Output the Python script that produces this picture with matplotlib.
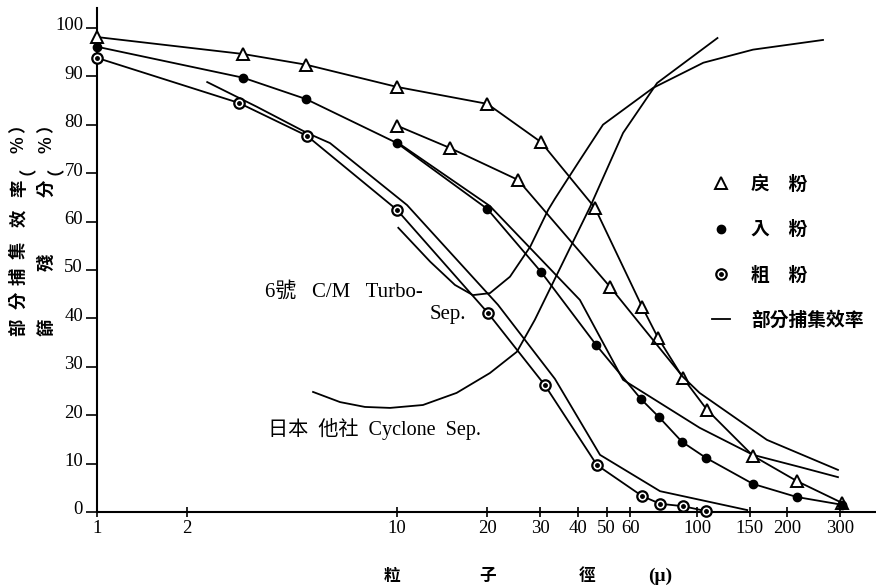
import matplotlib
matplotlib.use('Agg')
import matplotlib.pyplot as plt
import matplotlib.transforms as mtransforms
from matplotlib.lines import Line2D
from matplotlib.legend_handler import HandlerTuple
from matplotlib.ticker import NullLocator

CJK = 'Noto Sans CJK TC'
SERIF = 'Liberation Serif'
plt.rcParams['font.family'] = [SERIF, CJK, 'DejaVu Sans']

# ---- data (particle size in micron, percent) ----
tri_a_x = [1, 3.07, 4.97, 10, 20, 30.2, 45.7, 65.6, 74.1, 89.8, 108, 153.7, 215, 304]
tri_a_y = [98.1, 94.6, 92.4, 87.8, 84.3, 76.4, 62.8, 42.4, 36.0, 27.7, 21.1, 11.6, 6.4, 1.9]

tri_b_x = [10, 15.0, 25.3, 51.3, 71.4, 89.8, 102, 171, 295]
tri_b_y = [79.8, 75.2, 68.6, 46.5, 35.5, 27.9, 24.6, 14.9, 8.7]

dot_x = [1, 3.07, 4.97, 10, 20, 30.2, 46.1, 65.1, 74.7, 89.1, 107, 153.7, 215, 304]
dot_y = [96.1, 89.7, 85.3, 76.2, 62.6, 49.6, 34.5, 23.3, 19.6, 14.5, 11.2, 5.8, 3.1, 1.5]

dot_pair_x = [10, 20.4, 40.7, 56.7, 102, 153.7, 220, 295]
dot_pair_y = [76.4, 63.2, 43.8, 27.3, 17.4, 11.8, 9.3, 7.2]

circ_x = [1, 2.97, 5.01, 10, 20.1, 31.1, 46.4, 65.6, 75.3, 89.8, 107]
circ_y = [93.8, 84.5, 77.7, 62.4, 41.1, 26.2, 9.7, 3.3, 1.7, 1.2, 0.2]

circ_pair_x = [2.33, 3.41, 5.01, 5.98, 10.8, 21.7, 33.6, 47.5, 75.3, 147]
circ_pair_y = [88.8, 83.7, 78.3, 76.2, 63.4, 42.8, 27.5, 11.8, 4.3, 0.4]

turbo_x = [10.1, 12.9, 15.6, 17.9, 20.4, 23.8, 27.8, 31.9, 33.6, 40.7, 48.6, 71.4, 105, 153.7, 263]
turbo_y = [58.7, 51.7, 46.9, 44.8, 45.2, 48.6, 54.8, 62.4, 64.7, 72.7, 80.0, 87.6, 92.8, 95.5, 97.5]

cyclone_x = [5.25, 6.46, 7.82, 9.48, 12.2, 15.8, 20.4, 25.1, 28.8, 44.0, 56.7, 73.6, 117]
cyclone_y = [24.8, 22.7, 21.7, 21.5, 22.1, 24.6, 28.7, 33.1, 39.7, 63.0, 78.3, 88.6, 97.9]

x_ticks = [1, 2, 10, 20, 30, 40, 50, 60, 100, 150, 200, 300]
y_ticks = list(range(0, 101, 10))

legend_labels = ['戻\u3000粉', '入\u3000粉', '粗\u3000粉', '部分捕集效率']

W, H = 876, 587
fig = plt.figure(figsize=(W / 100, H / 100), dpi=100)


def fx(px):
    return px / W


def fy(py):
    return 1 - py / H


ax = fig.add_axes([fx(97), fy(512), (W - 97) / W, (512 - 8) / H])
ax.set_xscale('log')
ax.set_xlim(1, 395)
ax.set_ylim(0, 104.1)

lw = 1.3
line_kw = dict(color='k', lw=lw, clip_on=False)

# plain curves first
ax.plot(turbo_x, turbo_y, **line_kw)
ax.plot(cyclone_x, cyclone_y, **line_kw)
ax.plot(dot_pair_x, dot_pair_y, **line_kw)
ax.plot(circ_pair_x, circ_pair_y, **line_kw)

# marked curves
tri_kw = dict(marker='^', ms=8.5, mfc='white', mec='k', mew=1.4)
ax.plot(tri_a_x, tri_a_y, **line_kw, **tri_kw, zorder=3)
ax.plot(tri_b_x, tri_b_y, **line_kw, **tri_kw, markevery=[0, 1, 2, 3], zorder=3)
ax.plot(dot_x, dot_y, **line_kw, marker='o', ms=6, mfc='k', mec='k', zorder=3)
ax.plot(circ_x, circ_y, **line_kw, marker='o', ms=7.5, mfc='white', mec='k', mew=1.6, zorder=3)
ax.plot(circ_x, circ_y, ls='none', marker='o', ms=2.5, color='k', clip_on=False, zorder=4)

# axes styling
for side in ('top', 'right'):
    ax.spines[side].set_visible(False)
for side in ('left', 'bottom'):
    ax.spines[side].set_linewidth(1.5)

ax.set_xticks(x_ticks)
ax.set_xticklabels([str(v) for v in x_ticks])
ax.xaxis.set_minor_locator(NullLocator())
ax.set_yticks(y_ticks)
ax.set_yticklabels([str(v) for v in y_ticks])
ax.tick_params(axis='x', direction='inout', length=7, width=1.2, pad=2, labelsize=13.5)
ax.tick_params(axis='y', direction='out', length=8, width=1.2, pad=2, labelsize=13.5)
shift = mtransforms.ScaledTranslation(0, 4 / 100, fig.dpi_scale_trans)
for lab in ax.get_yticklabels():
    lab.set_transform(lab.get_transform() + shift)

# y axis label: two vertical columns
left_col = [('部', 327), ('分', 300), ('捕', 276), ('集', 250), ('效', 218), ('率', 188),
            ('（', 166), ('%', 145), ('）', 124)]
right_col = [('篩', 327), ('殘', 262), ('分', 188), ('（', 166), ('%', 145), ('）', 124)]
for col_x, col in ((19, left_col), (47, right_col)):
    for ch, py in col:
        fig.text(fx(col_x), fy(py), ch, rotation=90, ha='center', va='center',
                 family=[CJK, 'DejaVu Sans'], fontsize=12.5, fontweight='bold')

# x axis label
for ch, px in (('粒', 392), ('子', 488), ('徑', 587)):
    fig.text(fx(px), fy(576), ch, ha='center', va='center',
             family=[CJK], fontsize=12, fontweight='bold')
fig.text(fx(660), fy(576), '(\u03bc)', ha='center', va='center',
         family=[SERIF], fontsize=14, fontweight='bold')

# curve annotations
ann_font = [SERIF, CJK]
fig.text(fx(265), fy(292), '6號   C/M   Turbo-', ha='left', va='center',
         family=ann_font, fontsize=15)
fig.text(fx(430), fy(315), 'Sep.', ha='left', va='center', family=ann_font, fontsize=15)
fig.text(fx(268), fy(429), '日本  他社  Cyclone  Sep.', ha='left', va='center',
         family=ann_font, fontsize=14.5)

# legend
h_tri = Line2D([], [], ls='none', color='k', **tri_kw)
h_dot = Line2D([], [], ls='none', marker='o', ms=6, color='k')
h_circ = (Line2D([], [], ls='none', marker='o', ms=7.5, mfc='white', mec='k', mew=1.6),
          Line2D([], [], ls='none', marker='o', ms=2.5, color='k'))
h_line = Line2D([], [], color='k', lw=lw)
ax.legend([h_tri, h_dot, h_circ, h_line], legend_labels,
          handler_map={tuple: HandlerTuple(ndivide=1)},
          loc='upper left', bbox_to_anchor=(fx(712), fy(175)), bbox_transform=fig.transFigure,
          frameon=False, borderpad=0, borderaxespad=0, handlelength=0.95,
          handletextpad=1.15, labelspacing=1.4,
          prop=dict(family=[CJK], size=13.5, weight='bold'))

fig.savefig('out.png', dpi=100)
